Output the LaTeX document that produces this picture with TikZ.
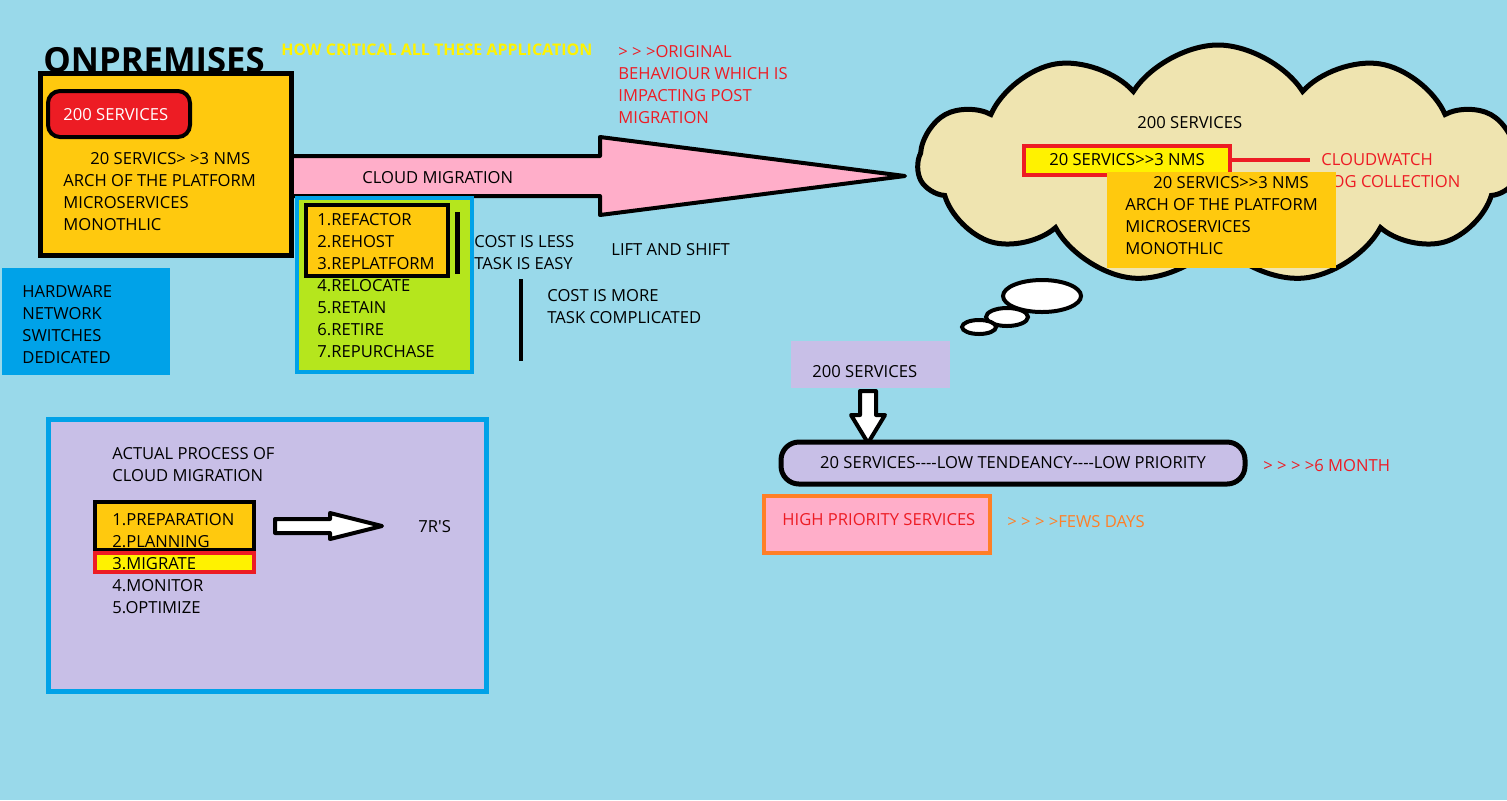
\documentclass[tikz,border=0pt]{standalone}
\usepackage{fontspec}
\setmainfont{Open Sans}[Ligatures=TeXOff]
\usetikzlibrary{shapes.symbols}
\definecolor{skyblue}{RGB}{153,217,234}
\definecolor{porange}{RGB}{255,201,14}
\definecolor{pred}{RGB}{237,28,36}
\definecolor{pblue}{RGB}{0,162,232}
\definecolor{pgreen}{RGB}{181,230,29}
\definecolor{ppink}{RGB}{255,174,201}
\definecolor{plav}{RGB}{200,191,231}
\definecolor{pcream}{RGB}{239,228,176}
\definecolor{pyellow}{RGB}{255,242,0}
\definecolor{pdeeporange}{RGB}{255,127,39}
\tikzset{
  txt/.style={anchor=base west, inner sep=0pt, font=\fontsize{8.3}{10}\selectfont},
  heavy/.style={line width=2.5pt},
}
\begin{document}
\begin{tikzpicture}[x=0.5pt,y=-0.5pt]
    \fill[skyblue] (0,0) rectangle (1507,800);
    \useasboundingbox (0,0) rectangle (1507,800);
    % headings
    \node[txt, font=\bfseries\fontsize{17.3}{20}\selectfont] (onprem) at (43,72) {ONPREMISES};
    \node[txt, font=\bfseries\fontsize{8}{9}\selectfont, text=yellow] (critical) at (281,55) {HOW CRITICAL ALL THESE APPLICATION};
    \foreach \t [count=\i] in {> > >ORIGINAL, BEHAVIOUR WHICH IS, IMPACTING POST, MIGRATION}
        \node[txt, text=pred] (orig\i) at (618,35+22*\i) {\t};
    % migration arrow
    \draw[fill=ppink, line width=2pt, line join=round] (291,156) -- (600,156) -- (600,137) -- (905,176) -- (600,215) -- (600,196) -- (291,196) -- cycle;
    \node[txt] (migr) at (362,183) {CLOUD MIGRATION};
    % on premises box
    \draw[fill=porange, heavy] (40,73) rectangle (291,255);
    \draw[fill=pred, line width=2pt, rounded corners=6pt] (48,91) rectangle (190,137);
    \node[txt, text=white] (srv200) at (63,120) {200 SERVICES};
    \node[txt] (nms) at (90,164) {20 SERVICS> >3 NMS};
    \foreach \t [count=\i] in {ARCH OF THE PLATFORM, MICROSERVICES, MONOTHLIC}
        \node[txt] (arch\i) at (63,164+22*\i) {\t};
    \fill[pblue] (2,268) rectangle (170,375);
    \foreach \t [count=\i] in {HARDWARE, NETWORK, SWITCHES, DEDICATED}
        \node[txt] (hw\i) at (22,275+22*\i) {\t};
    % the 7 R's
    \draw[fill=pgreen, draw=pblue, line width=2pt] (297,198) rectangle (472,372);
    \draw[fill=porange, line width=2pt] (306,205) rectangle (448,276);
    \foreach \t [count=\i] in {1.REFACTOR, 2.REHOST, 3.REPLATFORM, 4.RELOCATE, 5.RETAIN, 6.RETIRE, 7.REPURCHASE}
        \node[txt] (rs\i) at (317,203+22*\i) {\t};
    \draw[heavy] (457,212) -- (457,274);
    \node[txt] (less1) at (474,247) {COST IS LESS};
    \node[txt] (less2) at (474,269) {TASK IS EASY};
    \node[txt] (lift) at (611,255) {LIFT AND SHIFT};
    \draw[line width=2pt] (521,279) -- (521,361);
    \node[txt] (more1) at (547,301) {COST IS MORE};
    \node[txt] (more2) at (547,323) {TASK COMPLICATED};
    % cloud
    \node[cloud, draw, fill=pcream, heavy, cloud puffs=11, cloud puff arc=115, aspect=2.45, minimum width=300pt, minimum height=119pt] (sky) at (1218,164) {};
    \draw[fill=white, line width=2pt] (1042,296) ellipse (19.5pt and 8pt);
    \draw[fill=white, line width=2pt] (1007,317) ellipse (10.5pt and 4.5pt);
    \draw[fill=white, line width=2pt] (979,327) ellipse (8.5pt and 3.5pt);
    \node[txt] (cloudsrv) at (1137,128) {200 SERVICES};
    \node[draw=pred, fill=pyellow, line width=2pt, inner sep=0pt, minimum width=103pt, minimum height=14.5pt, font=\fontsize{8.3}{10}\selectfont] (cwsrc) at (1127,160) {20 SERVICS>>3 NMS};
    \node[txt, text=pred] (cw) at (1321,165) {CLOUDWATCH};
    \node[txt, text=pred] (logs) at (1323,187) {LOG COLLECTION};
    \draw[pred, line width=2pt, shorten >=5.5pt] (cwsrc.east) -- (cw.west |- cwsrc.east);
    \fill[porange] (1107,172) rectangle (1336,268);
    \node[txt] (cnms) at (1153,188) {20 SERVICS>>3 NMS};
    \foreach \t [count=\i] in {ARCH OF THE PLATFORM, MICROSERVICES, MONOTHLIC}
        \node[txt] (carch\i) at (1125,188+22*\i) {\t};
    % priorities
    \fill[plav] (791,341) rectangle (950,388);
    \node[txt] (lav) at (812,377) {200 SERVICES};
    \draw[fill=white, line width=2pt, line join=round] (860,391) -- (876,391) -- (876,415) -- (885,415) -- (868,443) -- (851,415) -- (860,415) -- cycle;
    \node[draw, fill=plav, heavy, rounded corners=9pt, minimum width=232pt, minimum height=21pt, inner sep=0pt, font=\fontsize{8.3}{10}\selectfont] (pill) at (1013,463) {20 SERVICES----LOW TENDEANCY----LOW PRIORITY};
    \node[txt, text=pred] (sixm) at (1263,471) {> > > >6 MONTH};
    \draw[fill=ppink, draw=pdeeporange, line width=2pt] (764,496) rectangle (990,553);
    \node[txt, text=pred] (high) at (782,525) {HIGH PRIORITY SERVICES};
    \node[txt, text=pdeeporange] (fews) at (1007,527) {> > > >FEWS DAYS};
    % actual process
    \draw[fill=plav, draw=pblue, heavy] (48,419) rectangle (486,691);
    \node[txt] (act1) at (112,459) {ACTUAL PROCESS OF};
    \node[txt] (act2) at (112,481) {CLOUD MIGRATION};
    \draw[fill=porange, line width=2pt] (95,502) rectangle (254,550);
    \fill[pyellow] (95,553) rectangle (254,572);
    \foreach \t [count=\i] in {1.PREPARATION, 2.PLANNING, 3.MIGRATE, 4.MONITOR, 5.OPTIMIZE}
        \node[txt] (step\i) at (112,503+22*\i) {\t};
    \draw[pred, line width=2pt] (95,553) rectangle (254,572);
    \draw[fill=white, line width=2pt, line join=round] (275,519) -- (330,519) -- (330,513) -- (382,526) -- (330,539) -- (330,533) -- (275,533) -- cycle;
    \node[txt] (sevenr) at (418,532) {7R'S};
\end{tikzpicture}
\end{document}
